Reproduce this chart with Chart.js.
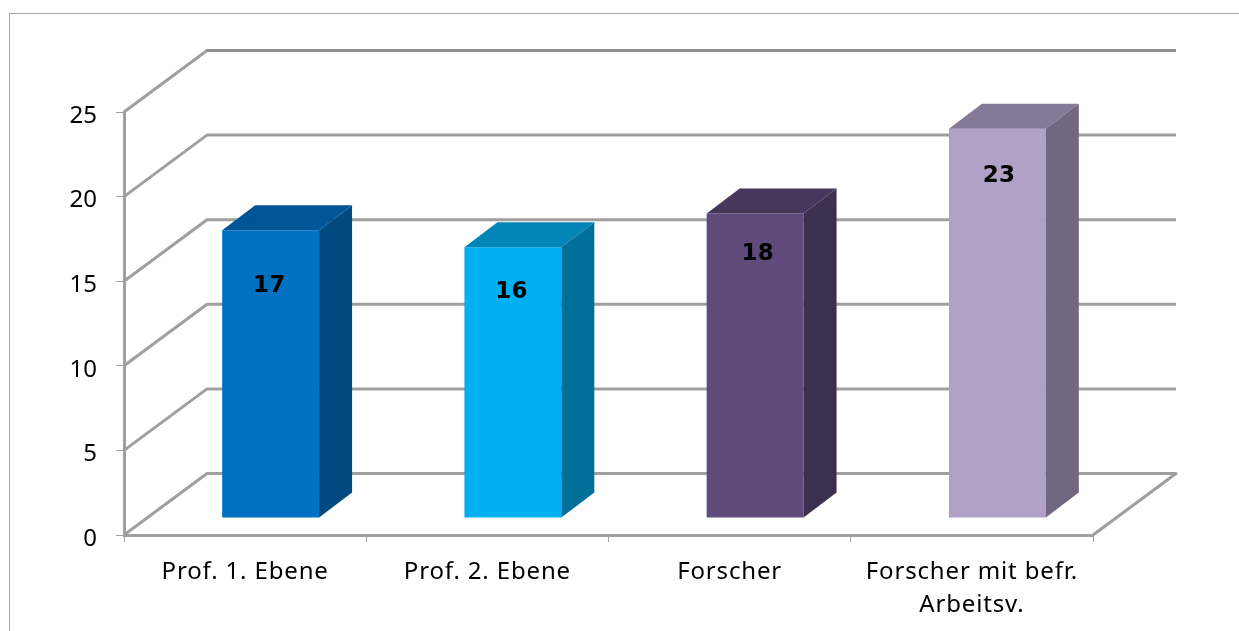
<!DOCTYPE html>
<html>
<head>
<meta charset="utf-8">
<title>Chart</title>
<script src="https://cdn.jsdelivr.net/npm/chart.js@4"></script>
<style>
  html, body { margin: 0; padding: 0; background: #fff; overflow: hidden; }
  #frame { position: absolute; left: 9px; top: 13px; right: 0; bottom: 0; border-left: 1px solid #a6a6a6; border-top: 1px solid #a6a6a6; }
  #wrap { position: absolute; left: 0; top: 0; width: 1239px; height: 631px; }
</style>
</head>
<body>
<div id="frame"></div>
<div id="wrap"><canvas id="chart" width="1239" height="631"></canvas></div>
<script>
const categories = ['Prof. 1. Ebene', 'Prof. 2. Ebene', 'Forscher', ['Forscher mit befr.', 'Arbeitsv.']]
const values = [17, 16, 18, 23]
const yTicks = [0, 5, 10, 15, 20, 25]

const faceColors = ['#0070C0', '#00B0F0', '#604A7B', '#B2A1C7']
const topColors = ['#005596', '#0085B6', '#48375C', '#867997']
const sideColors = ['#004A80', '#00709A', '#3D2F4E', '#716780']

// the labels sit by hand inside the bars in the original
const labelDrop = [56, 45, 41, 47]
const labelShift = [-1.5, -1.5, 2.5, 1.5]

const wallX = 83, wallY = -61.5     // front plane to back wall
const barX = 25.5, barY = -17       // front plane to bar front
const depthX = 33, depthY = -25     // bar depth
const gridColor = '#9f9f9f'

function poly(ctx, pts, color) {
  ctx.fillStyle = color
  ctx.beginPath()
  pts.forEach((p, i) => i ? ctx.lineTo(p[0], p[1]) : ctx.moveTo(p[0], p[1]))
  ctx.closePath()
  ctx.fill()
}

const box3d = {
  id: 'box3d',
  beforeDatasetsDraw(chart) {
    const { ctx, chartArea: a, scales: { y } } = chart
    ctx.save()
    ctx.lineWidth = 3
    ctx.lineJoin = 'round'
    ctx.strokeStyle = gridColor
    yTicks.forEach(t => {
      const py = y.getPixelForValue(t)
      ctx.beginPath()
      ctx.moveTo(a.left, py)
      ctx.lineTo(a.left + wallX, py + wallY)
      ctx.lineTo(a.right + wallX, py + wallY)
      if (t === 0) ctx.lineTo(a.right, py)
      ctx.stroke()
    })
    // top edge of the wall is a little darker
    const topY = y.getPixelForValue(yTicks[yTicks.length - 1]) + wallY
    ctx.strokeStyle = '#909090'
    ctx.beginPath()
    ctx.moveTo(a.left + wallX, topY)
    ctx.lineTo(a.right + wallX, topY)
    ctx.stroke()
    ctx.restore()
    // bars stand a bit behind the axis plane
    ctx.save()
    ctx.translate(barX, barY)
  },
  afterDatasetsDraw(chart) {
    const { ctx } = chart
    chart.getDatasetMeta(0).data.forEach((bar, i) => {
      const l = bar.x - bar.width / 2, r = bar.x + bar.width / 2
      const t = bar.y, b = bar.base
      poly(ctx, [[l, t], [r, t], [r + depthX, t + depthY], [l + depthX, t + depthY]], topColors[i])
      poly(ctx, [[r, t], [r + depthX, t + depthY], [r + depthX, b + depthY], [r, b]], sideColors[i])
      ctx.fillStyle = '#000'
      ctx.font = 'bold 23px "DejaVu Sans"'
      ctx.textAlign = 'center'
      ctx.textBaseline = 'middle'
      ctx.fillText(values[i], bar.x + labelShift[i], t + labelDrop[i])
    })
    ctx.restore()
    // category labels come after this (z 1) and are wider in the original
    ctx.letterSpacing = '0.85px'
  }
}

new Chart(document.getElementById('chart'), {
  type: 'bar',
  data: {
    labels: categories,
    datasets: [{
      data: values,
      backgroundColor: faceColors,
      borderWidth: 0,
      categoryPercentage: 1,
      barPercentage: 0.4,
      clip: false
    }]
  },
  plugins: [box3d],
  options: {
    responsive: false,
    animation: false,
    layout: {
      autoPadding: false,
      padding: { left: 0, top: 112, right: 146, bottom: 0 }
    },
    plugins: { legend: { display: false }, tooltip: { enabled: false } },
    scales: {
      x: {
        afterFit(scale) { scale.height = 96 },
        border: { color: gridColor, width: 3 },
        grid: { drawOnChartArea: false, color: gridColor, tickLength: 7, tickWidth: 1 },
        ticks: {
          z: 1,
          color: '#000',
          maxRotation: 0,
          padding: 14,
          font: { family: '"Noto Sans"', size: 24, lineHeight: 1.36 }
        }
      },
      y: {
        min: 0,
        max: 25,
        afterFit(scale) { scale.width = 124 },
        afterBuildTicks(scale) { scale.ticks = yTicks.map(v => ({ value: v })) },
        border: { color: gridColor, width: 3 },
        grid: { drawOnChartArea: false, color: gridColor, tickLength: 8, tickWidth: 1 },
        ticks: {
          color: '#000',
          padding: 19,
          labelOffset: 4,
          font: { family: '"Noto Sans"', size: 24 }
        }
      }
    }
  }
})
</script>
</body>
</html>
